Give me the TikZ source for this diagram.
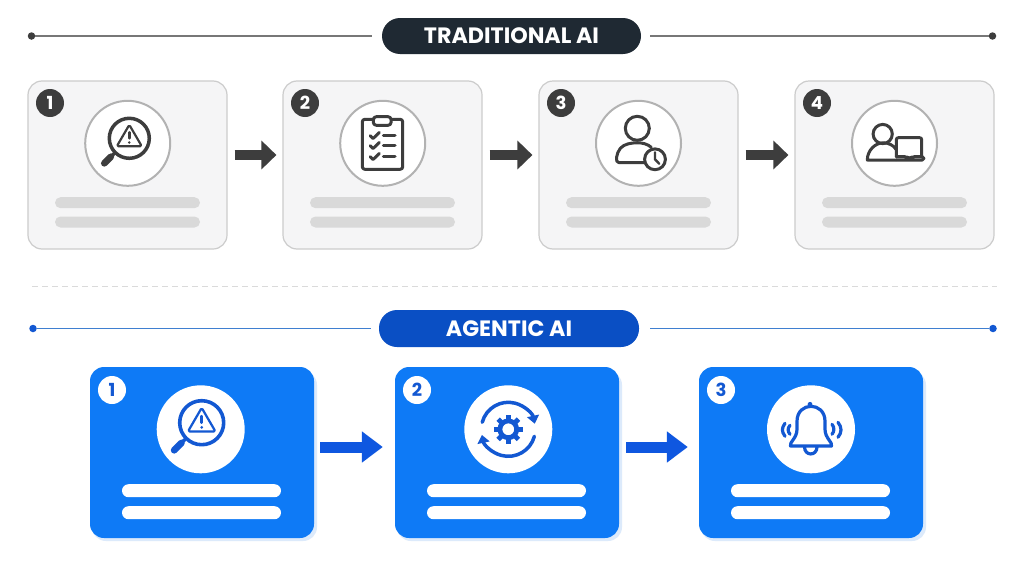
\documentclass[tikz,border=0pt]{standalone}
\usepackage{fontspec}
\setmainfont{Poppins}
\usetikzlibrary{arrows.meta}
\definecolor{cardfill}{HTML}{F5F5F6}
\definecolor{cardline}{HTML}{CCCCCC}
\definecolor{inkdark}{HTML}{3D3D3D}
\definecolor{bargrey}{HTML}{D9D9D9}
\definecolor{pilldark}{HTML}{1F2933}
\definecolor{pillblue}{HTML}{0A4FC4}
\definecolor{cardblue}{HTML}{0E7AF6}
\definecolor{inkblue}{HTML}{1358D2}
\definecolor{arrowblue}{HTML}{0F57E0}
\definecolor{ruleblue}{HTML}{3F7FD0}
\definecolor{rulegrey}{HTML}{777777}
\definecolor{dashgrey}{HTML}{DADADA}
\definecolor{softblue}{HTML}{DCEAFB}
\tikzset{
  greycard/.style={draw=cardline,line width=1.2pt,fill=cardfill,rounded corners=14pt,minimum width=199pt,minimum height=168pt,inner sep=0pt},
  bluecard/.style={fill=cardblue,rounded corners=14pt,minimum width=224pt,minimum height=171pt,inner sep=0pt},
  greydisc/.style={circle,draw=black!30,line width=2pt,fill=white,minimum size=85pt,inner sep=0pt},
  whitedisc/.style={circle,fill=white,minimum size=88pt,inner sep=0pt},
  greybadge/.style={circle,fill=inkdark,text=white,minimum size=28pt,inner sep=0pt,font=\fontsize{18pt}{18pt}\selectfont\bfseries},
  bluebadge/.style={circle,fill=white,text=inkblue,minimum size=28pt,inner sep=0pt,font=\fontsize{18pt}{18pt}\selectfont\bfseries},
  greybar/.style={fill=bargrey,rounded corners=5.5pt,minimum width=145pt,minimum height=11pt,inner sep=0pt},
  whitebar/.style={fill=white,rounded corners=6.5pt,minimum width=159pt,minimum height=13pt,inner sep=0pt},
  pill/.style={rounded corners=18pt,text=white,inner sep=0pt,font=\fontsize{22.2pt}{22.2pt}\selectfont\bfseries},
  enddot/.style={circle,minimum size=7.5pt,inner sep=0pt},
  greyflow/.style={draw=inkdark,line width=9.5pt,-{Triangle[length=15pt,width=28pt]}},
  blueflow/.style={draw=arrowblue,line width=11pt,-{Triangle[length=21pt,width=30pt]}},
  icon/.style={line cap=round,line join=round},
}
% magnifier with warning triangle
\newcommand{\iconlens}[5]{%
\begin{scope}[shift={(#2,#3)},scale=#4,icon,draw=#1,fill=#1]
  \draw[line width=#5pt,fill=none] (0,0) circle[radius=20];
  \draw[line width=1.0*#5pt] (-15.5,15.5) -- (-18,18);
  \draw[line width=1.9*#5pt] (-18.5,18.5) -- (-25,25);
  \draw[line width=0.62*#5pt,fill=none,rounded corners=1.6pt] (0,-13.5) -- (12.5,8) -- (-12.5,8) -- cycle;
  \draw[line width=0.7*#5pt] (0,-6) -- (0,0);
  \fill (0,4.2) circle[radius=0.38*#5];
\end{scope}}
\newcommand{\iconboard}[3]{%
\begin{scope}[shift={(#2,#3)},icon,draw=#1,line width=3pt]
  \draw[rounded corners=2.5pt] (-9,-24) -- (-20.4,-24) -- (-20.4,26) -- (20,26) -- (20,-24) -- (9,-24);
  \draw[rounded corners=3pt] (-9.4,-26.6) rectangle (8.4,-18);
  \foreach \yy in {-7.5,2.5,13.5}{
    \draw (-12.5,\yy) -- (-9.7,\yy+2.8) -- (-3.5,\yy-3.3);
    \draw (0.7,\yy) -- (12.3,\yy);
  }
\end{scope}}
\newcommand{\iconclock}[3]{%
\begin{scope}[shift={(#2,#3)},icon,draw=#1,line width=3pt]
  \draw (-1,-15) circle[radius=12];
  \draw (7,19.3) -- (-19.5,19.3) .. controls (-23.5,19.3) and (-22,10) .. (-18,5) .. controls (-14,0.5) and (-7,-0.5) .. (-1,-0.5) .. controls (4,-0.5) and (9,0.5) .. (13,4);
  \draw[fill=white] (16.7,16) circle[radius=10.4];
  \draw[line width=2.4pt] (16.7,9) -- (16.7,16) -- (21,20.5);
\end{scope}}
\newcommand{\iconlaptop}[3]{%
\begin{scope}[shift={(#2,#3)},icon,draw=#1,line width=3pt]
  \draw (-11.6,-9.3) circle[radius=9.6];
  \draw (1.7,16.7) -- (-27,16.7) .. controls (-27,7) and (-19,-0.5) .. (-11,-0.5) .. controls (-6,-0.5) and (-0.5,2) .. (1.7,6);
  \draw[rounded corners=2pt] (2,13.4) -- (2,-5.6) -- (27.4,-5.6) -- (27.4,13.4);
  \draw[rounded corners=1.5pt] (2,13.4) -- (12,13.4) -- (13.5,14.6) -- (17,14.6) -- (18.5,13.4) -- (29.5,13.4) -- (29.5,16.7) -- (2,16.7);
\end{scope}}
\newcommand{\icongear}[3]{%
\begin{scope}[shift={(#2,#3)},icon,draw=#1,fill=#1]
  \draw[line width=4.8pt,fill=none] (0,0) circle[radius=8.4];
  \foreach \aa in {0,45,...,315}{\draw[line width=4.8pt,line cap=butt] (\aa:9) -- (\aa:14.4);}
  \draw[line width=3.5pt,fill=none,-{Triangle[length=8pt,width=12pt]}] (-165:27) arc[start angle=-165,end angle=-12,radius=27];
  \draw[line width=3.5pt,fill=none,-{Triangle[length=8pt,width=12pt]}] (15:27) arc[start angle=15,end angle=168,radius=27];
\end{scope}}
\newcommand{\iconbell}[3]{%
\begin{scope}[shift={(#2,#3)},icon,draw=#1,line width=3.2pt]
  \draw (-20.5,16.7) .. controls (-22,13) and (-14,9) .. (-14,0) -- (-14,-8) .. controls (-14,-18) and (-7,-23) .. (0,-23) .. controls (7,-23) and (14,-18) .. (14,-8) -- (14,0) .. controls (14,9) and (22,13) .. (20.5,16.7) -- cycle;
  \draw (-1.2,-23) -- (-1.2,-25);
  \fill[#1] (-1,-25) circle[radius=2.4];
  \draw (-6.5,17.5) .. controls (-6.5,27) and (6,27) .. (6,17.5);
  \draw (-26,-6) .. controls (-29.5,-1) and (-29.5,2) .. (-26,7);
  \draw (-21,-4) .. controls (-23.5,-1) and (-23.5,2) .. (-21,5);
  \draw (21,-5) .. controls (23.5,-2) and (23.5,2) .. (21,5);
  \draw (27,-7) .. controls (31,-2) and (31,3) .. (27,8);
\end{scope}}
\begin{document}
\begin{tikzpicture}[x=1pt,y=-1pt]
\useasboundingbox (0,0) rectangle (1024,562);
\fill[white] (0,0) rectangle (1024,562);

% header: traditional
\node[pill,fill=pilldark,minimum width=259pt,minimum height=36pt] (tradpill) at (511.5,36) {TRADITIONAL AI};
\node[enddot,fill=inkdark] (tradL) at (31.5,36) {};
\node[enddot,fill=inkdark] (tradR) at (992.5,36) {};
\draw[rulegrey,line width=1.3pt,shorten >=10pt] (tradL) -- (tradpill);
\draw[rulegrey,line width=1.3pt,shorten >=9pt] (tradR) -- (tradpill);

% traditional cards
\node[greycard] (g1) at (127.5,165) {};
\node[greycard] (g2) at (382.5,165) {};
\node[greycard] (g3) at (638.5,165) {};
\node[greycard] (g4) at (894.5,165) {};
\node[greydisc] (gd1) at (127.7,143.3) {};
\node[greydisc] (gd2) at (382.7,143.3) {};
\node[greydisc] (gd3) at (638.5,143.3) {};
\node[greydisc] (gd4) at (894.5,143.3) {};
\node[greybadge] (gb1) at (50,103) {1};
\node[greybadge] (gb2) at (305,103) {2};
\node[greybadge] (gb3) at (561,103) {3};
\node[greybadge] (gb4) at (817,103) {4};
\foreach \cx/\nn in {127.5/1,382.5/2,638.5/3,894.5/4}{
  \node[greybar] (gu\nn) at (\cx,202.7) {};
  \node[greybar] (gl\nn) at (\cx,222) {};
}
\iconlens{inkdark}{129.3}{138.3}{1}{3.5}
\iconboard{inkdark}{382.7}{143.3}
\iconclock{inkdark}{638.3}{143.3}
\iconlaptop{inkdark}{894.3}{143.3}
\draw[greyflow,shorten <=7pt,shorten >=6pt] ([yshift=10pt]g1.east) -- ([yshift=10pt]g2.west);
\draw[greyflow,shorten <=7pt,shorten >=6pt] ([yshift=10pt]g2.east) -- ([yshift=10pt]g3.west);
\draw[greyflow,shorten <=7pt,shorten >=6pt] ([yshift=10pt]g3.east) -- ([yshift=10pt]g4.west);

% divider
\coordinate (divL) at (32,286.5);
\coordinate (divR) at (997,286.5);
\draw[dashgrey,line width=1.1pt,dash pattern=on 6pt off 4pt] (divL) -- (divR);

% header: agentic
\node[pill,fill=pillblue,minimum width=260pt,minimum height=37pt] (agpill) at (509,328.5) {AGENTIC AI};
\node[enddot,fill=inkblue] (agL) at (33,328.5) {};
\node[enddot,fill=inkblue] (agR) at (993,328.5) {};
\draw[ruleblue,line width=1.3pt,shorten >=8pt] (agL) -- (agpill);
\draw[ruleblue,line width=1.3pt,shorten >=11pt] (agR) -- (agpill);

% agentic cards
\foreach \cx in {202,507,811}{
  \fill[softblue,rounded corners=14pt] (\cx-110,371) rectangle (\cx+115,541);
}
\node[bluecard] (b1) at (202,452.5) {};
\node[bluecard] (b2) at (507,452.5) {};
\node[bluecard] (b3) at (811,452.5) {};
\node[whitedisc] (bd1) at (200.7,429.3) {};
\node[whitedisc] (bd2) at (508.3,429.3) {};
\node[whitedisc] (bd3) at (811,429.3) {};
\node[bluebadge] (bb1) at (112,390) {1};
\node[bluebadge] (bb2) at (417,390) {2};
\node[bluebadge] (bb3) at (721,390) {3};
\foreach \cx/\nn in {201.5/1,506.5/2,810.5/3}{
  \node[whitebar] (bu\nn) at (\cx,490.7) {};
  \node[whitebar] (bl\nn) at (\cx,512.7) {};
}
\iconlens{inkblue}{201.7}{422.7}{1.1}{3.6}
\icongear{inkblue}{508.3}{429.3}
\iconbell{inkblue}{811}{429.3}
\draw[blueflow,shorten <=6pt,shorten >=12pt] ([yshift=5.5pt]b1.east) -- ([yshift=5.5pt]b2.west);
\draw[blueflow,shorten <=7pt,shorten >=11pt] ([yshift=5.5pt]b2.east) -- ([yshift=5.5pt]b3.west);
\end{tikzpicture}
\end{document}
